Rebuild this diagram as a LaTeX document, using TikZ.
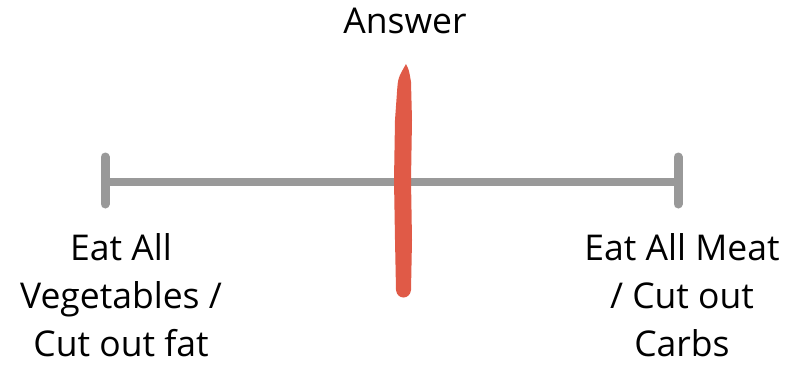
\documentclass[tikz,border=0pt]{standalone}
\usepackage{fontspec}
\setmainfont{Open Sans}
\usetikzlibrary{positioning,calc}
\definecolor{axisgray}{HTML}{999999}
\definecolor{answerred}{HTML}{E05A47}

\begin{document}
\begin{tikzpicture}[x=1pt, y=-1pt,
  axis/.style={draw=axisgray, line width=8pt},
  endtick/.style={draw=axisgray, line width=9pt, line cap=round},
  label/.style={font=\fontsize{35.5}{48}\selectfont, align=center, inner sep=0pt, anchor=base}
]
  \useasboundingbox (0,0) rectangle (800,364);

  %% Scale
  \coordinate (left) at (105,182);
  \coordinate (right) at (678,182);
  \draw[axis] (left) -- (right);
  \draw[endtick] ($(left)+(0,-25)$) -- ($(left)+(0,22)$);
  \draw[endtick] ($(right)+(0,-25)$) -- ($(right)+(0,22)$);

  %% Answer mark
  \fill[answerred] (406,64) .. controls (409,70) .. (411,82)
    -- (412,120) -- (411,180) -- (412,240) -- (411,290)
    .. controls (410,300) and (397,300) .. (396,290)
    -- (395,240) -- (394,180) -- (395,120) -- (397,92)
    .. controls (398,78) .. (406,64) -- cycle;

  %% Labels
  \node[label] (answer) at (405,33) {Answer};
  \node[label] (veg) at (121,356) {Eat All\\Vegetables /\\Cut out fat};
  \node[label] (meat) at (682,356) {Eat All Meat\\/ Cut out\\Carbs};
\end{tikzpicture}
\end{document}
